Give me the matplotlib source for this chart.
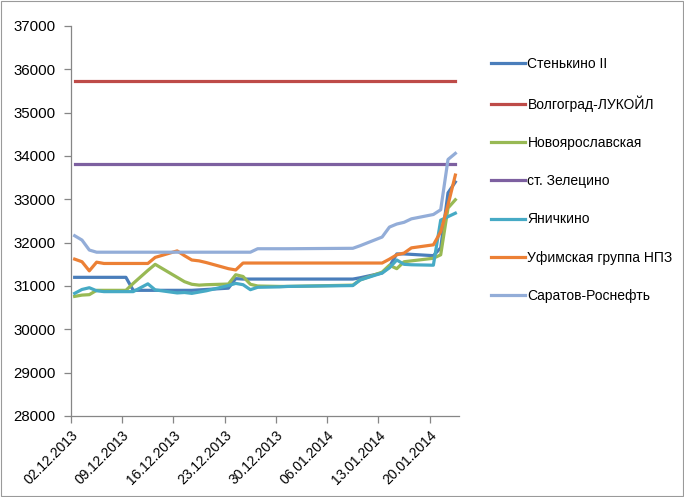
import matplotlib
matplotlib.use("Agg")
import matplotlib.dates as mdates
import matplotlib.pyplot as plt
import pandas as pd
from matplotlib.patches import Rectangle

plt.rcParams["font.family"] = ["Liberation Sans", "DejaVu Sans"]

dates = pd.to_datetime([
    "02.12.2013", "03.12.2013", "04.12.2013", "05.12.2013", "06.12.2013",
    "09.12.2013", "10.12.2013", "11.12.2013", "12.12.2013", "13.12.2013",
    "16.12.2013", "17.12.2013", "18.12.2013", "19.12.2013", "20.12.2013",
    "23.12.2013", "24.12.2013", "25.12.2013", "26.12.2013", "27.12.2013",
    "30.12.2013", "31.12.2013",
    "09.01.2014", "10.01.2014",
    "13.01.2014", "14.01.2014", "15.01.2014", "16.01.2014", "17.01.2014",
    "20.01.2014", "21.01.2014", "22.01.2014", "23.01.2014",
], format="%d.%m.%Y")

stenkino = [31200, 31200, 31200, 31200, 31200,
            31200, 30900, 30900, 30900, 30900,
            30900, 30900, 30900, 30910, 30920,
            30950, 31170, 31160, 31160, 31160,
            31160, 31160,
            31160, 31190,
            31300, 31450, 31740, 31740, 31730,
            31700, 31880, 33150, 33400]
volgograd = [35730] * len(dates)
novoyar = [30760, 30790, 30800, 30900, 30900,
           30900, 31060, 31210, 31360, 31500,
           31200, 31100, 31040, 31020, 31030,
           31045, 31260, 31220, 31040, 31000,
           30990, 30990,
           31020, 31140,
           31320, 31480, 31400, 31560, 31580,
           31640, 31720, 32800, 32990]
zelecino = [33810] * len(dates)
yanichkino = [30830, 30920, 30960, 30890, 30870,
              30870, 30870, 30960, 31050, 30910,
              30840, 30850, 30830, 30860, 30890,
              31010, 31060, 31030, 30915, 30970,
              30980, 30990,
              31010, 31140,
              31300, 31420, 31600, 31500, 31490,
              31480, 32520, 32600, 32680]
ufa = [31620, 31560, 31350, 31550, 31520,
       31520, 31520, 31520, 31520, 31660,
       31810, 31700, 31600, 31580, 31540,
       31400, 31370, 31530, 31530, 31530,
       31530, 31530,
       31530, 31530,
       31530, 31620, 31720, 31760, 31880,
       31950, 32250, 32870, 33560]
saratov = [32160, 32060, 31830, 31780, 31780,
           31780, 31780, 31780, 31780, 31780,
           31780, 31780, 31780, 31780, 31780,
           31780, 31780, 31780, 31780, 31860,
           31860, 31860,
           31870, 31930,
           32130, 32360, 32430, 32470, 32550,
           32650, 32760, 33920, 34060]

names = ["Стенькино II", "Волгоград-ЛУКОЙЛ", "Новоярославская", "ст. Зелецино",
         "Яничкино", "Уфимская группа НПЗ", "Саратов-Роснефть"]
series = [stenkino, volgograd, novoyar, zelecino, yanichkino, ufa, saratov]
colors = ["#4A7EBB", "#BE4B48", "#98B954", "#7D60A0", "#46AAC5", "#EC8035", "#93ADD8"]

tick_dates = pd.date_range("2013-12-02", "2014-01-20", freq="7D")
half_day = pd.Timedelta(hours=12)

fig = plt.figure(figsize=(6.84, 4.97), dpi=100)
ax = fig.add_axes([71 / 684, 1 - 416 / 497, (459 - 71) / 684, (416 - 26) / 497])

for vals, name, col in zip(series, names, colors):
    ax.plot(dates, vals, color=col, lw=2.3, label=name, solid_joinstyle="round")

ax.set_ylim(28000, 37000)
ax.set_yticks(range(28000, 37001, 1000))
ax.set_xlim(dates[0] - half_day, dates[-1] + half_day)
ax.set_xticks(tick_dates - half_day)
ax.set_xticklabels([d.strftime("%d.%m.%Y") for d in tick_dates],
                   rotation=45, ha="right", rotation_mode="anchor")

for s in ["top", "right"]:
    ax.spines[s].set_visible(False)
for s in ["left", "bottom"]:
    ax.spines[s].set_color("#868686")
    ax.spines[s].set_linewidth(0.9)
ax.tick_params(colors="#868686", length=5, width=0.9, labelcolor="black", labelsize=10)
ax.tick_params(axis="y", pad=6, labelsize=10.8)

fig.legend(loc="upper left", bbox_to_anchor=(0.7, 0.911), frameon=False,
           fontsize=10, handlelength=2.4, handletextpad=0.2, labelspacing=1.75)

fig.patches.append(Rectangle((0.002, 0.002), 0.996, 0.996, transform=fig.transFigure,
                             fill=False, edgecolor="#9a9a9a", lw=0.8))

fig.savefig("out.png", dpi=100)
